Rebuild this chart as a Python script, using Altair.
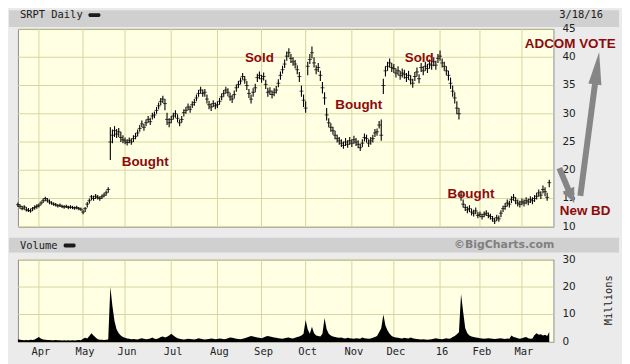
import altair as alt
import pandas as pd

# ---------------- data: one entry per trading session, 18 Mar 2015 .. 18 Mar 2016 ----------------
month_sizes = [10, 21, 20, 22, 22, 21, 21, 22, 20, 22, 19, 20, 14]

close_m = [
    [13.9, 13.6, 13.2, 13.5, 13.0, 12.9, 12.8, 13.2, 13.4, 13.6],
    [13.8, 14.2, 14.6, 15.0, 14.7, 14.4, 14.2, 14.0, 13.9, 13.7, 13.8, 13.6, 13.5, 13.6, 13.4, 13.5, 13.4, 13.3, 13.4, 13.2, 13.1],
    [12.6, 13.2, 14.0, 14.6, 15.3, 15.0, 15.4, 15.2, 15.0, 15.3, 15.6, 16.0, 16.6, 25.0, 26.2, 27.0, 26.4, 26.8, 25.8, 25.4],
    [25.2, 24.9, 25.3, 25.0, 25.6, 26.0, 26.6, 27.4, 28.2, 27.6, 28.4, 29.0, 28.6, 29.6, 29.8, 30.6, 31.4, 32.2, 32.6, 31.8, 29.0, 28.4],
    [29.0, 29.6, 30.0, 29.2, 28.4, 29.0, 30.2, 30.6, 31.2, 30.8, 31.6, 32.0, 32.8, 33.6, 34.2, 33.6, 33.8, 32.6, 31.6, 31.2, 31.8, 31.4],
    [31.6, 32.2, 33.0, 33.6, 34.2, 33.8, 33.0, 32.6, 33.4, 34.6, 35.2, 35.8, 36.6, 36.0, 35.0, 33.6, 32.6, 33.8, 34.6, 36.4, 36.8],
    [36.2, 36.6, 35.2, 33.8, 34.0, 33.4, 33.8, 34.2, 35.4, 36.8, 37.8, 38.8, 40.2, 40.8, 39.8, 39.2, 38.8, 37.8, 36.6, 34.0, 32.4],
    [31.0, 38.4, 39.6, 40.8, 39.0, 37.8, 38.2, 36.8, 34.6, 32.8, 29.8, 28.4, 27.6, 27.0, 26.2, 25.6, 25.2, 24.8, 24.4, 25.0, 24.6, 25.2],
    [24.8, 25.4, 25.0, 24.6, 24.0, 24.8, 25.8, 25.6, 24.8, 25.2, 25.6, 26.6, 26.8, 28.0, 26.2, 35.0, 37.6, 38.4, 39.0, 38.2],
    [38.0, 37.2, 37.6, 36.8, 37.2, 37.0, 36.4, 36.8, 36.0, 35.4, 36.6, 37.4, 36.2, 38.2, 37.6, 38.4, 38.0, 38.8, 38.6, 39.2, 38.6, 39.8],
    [40.2, 39.0, 38.4, 37.6, 36.8, 35.4, 34.0, 32.8, 31.0, 30.0, 15.6, 14.0, 13.4, 13.0, 13.2, 12.6, 12.4, 12.8, 12.0],
    [12.2, 11.8, 12.2, 12.4, 12.0, 11.8, 11.4, 11.0, 11.6, 11.4, 12.4, 13.2, 13.6, 14.2, 14.0, 14.8, 15.2, 14.6, 14.2, 14.0],
    [14.4, 14.2, 14.6, 14.4, 14.8, 14.6, 15.0, 15.4, 16.0, 15.6, 16.6, 16.2, 15.2, 17.8],
]

low_m = [
    [13.5, 13.2, 12.9, 13.0, 12.7, 12.6, 12.5, 12.8, 13.0, 13.2],
    [13.4, 13.8, 14.2, 14.5, 14.3, 14.0, 13.9, 13.7, 13.6, 13.4, 13.5, 13.3, 13.2, 13.3, 13.1, 13.2, 13.1, 13.0, 13.1, 12.9, 12.8],
    [12.2, 12.6, 13.4, 14.1, 14.7, 14.6, 14.9, 14.8, 14.6, 14.9, 15.2, 15.5, 16.0, 21.8, 24.8, 25.9, 25.7, 25.9, 25.0, 24.8],
    [24.6, 24.4, 24.8, 24.5, 25.0, 25.5, 26.0, 26.8, 27.6, 27.0, 27.8, 28.4, 28.0, 29.0, 29.2, 30.0, 30.8, 31.5, 31.9, 30.6, 28.0, 27.6],
    [28.3, 29.0, 29.3, 28.5, 27.8, 28.4, 29.5, 30.0, 30.6, 30.2, 31.0, 31.4, 32.2, 33.0, 33.6, 33.0, 33.0, 31.8, 30.8, 30.5, 31.2, 30.8],
    [31.0, 31.6, 32.4, 33.0, 33.6, 33.1, 32.3, 31.9, 32.7, 33.9, 34.6, 35.2, 36.0, 35.3, 34.2, 32.8, 31.8, 33.0, 33.8, 35.6, 36.1],
    [35.5, 35.9, 34.4, 33.0, 33.3, 32.7, 33.1, 33.6, 34.7, 36.0, 37.1, 38.1, 39.4, 40.0, 39.0, 38.5, 38.0, 37.0, 35.6, 33.0, 31.2],
    [30.2, 36.8, 38.8, 39.8, 38.2, 37.0, 37.4, 35.8, 33.6, 31.6, 28.8, 27.6, 26.8, 26.3, 25.5, 24.9, 24.5, 24.1, 23.8, 24.3, 24.0, 24.5],
    [24.1, 24.7, 24.3, 23.9, 23.4, 24.1, 25.1, 24.9, 24.1, 24.5, 24.9, 25.9, 26.1, 27.4, 25.2, 33.5, 36.6, 37.6, 38.2, 37.4],
    [37.2, 36.4, 36.8, 36.0, 36.4, 36.2, 35.6, 36.0, 35.2, 34.6, 35.8, 36.6, 35.4, 37.4, 36.8, 37.6, 37.2, 38.0, 37.8, 38.4, 37.8, 39.0],
    [39.4, 38.2, 37.6, 36.8, 35.9, 34.4, 33.0, 31.8, 29.9, 29.0, 14.6, 13.4, 12.8, 12.4, 12.6, 12.0, 11.8, 12.2, 11.5],
    [11.7, 11.3, 11.7, 11.9, 11.5, 11.3, 10.9, 10.5, 11.0, 10.9, 11.7, 12.6, 13.0, 13.6, 13.4, 14.2, 14.6, 14.0, 13.6, 13.4],
    [13.8, 13.6, 14.0, 13.8, 14.2, 14.0, 14.4, 14.8, 15.3, 14.9, 15.9, 15.4, 14.6, 17.0],
]

high_m = [
    [14.3, 14.0, 13.7, 13.8, 13.5, 13.3, 13.2, 13.5, 13.8, 14.0],
    [14.1, 14.5, 15.0, 15.3, 15.1, 14.8, 14.5, 14.3, 14.2, 14.0, 14.1, 13.9, 13.8, 13.9, 13.7, 13.8, 13.7, 13.6, 13.7, 13.5, 13.4],
    [13.0, 13.5, 14.4, 15.0, 15.6, 15.5, 15.8, 15.6, 15.4, 15.7, 16.0, 16.4, 17.0, 27.6, 27.2, 27.8, 27.3, 27.5, 26.8, 26.2],
    [25.8, 25.5, 25.8, 25.6, 26.2, 26.6, 27.2, 28.0, 28.8, 28.2, 29.0, 29.6, 29.3, 30.2, 30.4, 31.2, 32.0, 32.8, 33.2, 32.6, 30.2, 29.2],
    [29.6, 30.2, 30.6, 29.9, 29.0, 29.6, 30.8, 31.2, 31.8, 31.4, 32.2, 32.6, 33.4, 34.2, 34.8, 34.3, 34.4, 33.4, 32.3, 31.8, 32.4, 32.0],
    [32.2, 32.8, 33.6, 34.2, 34.8, 34.5, 33.7, 33.3, 34.1, 35.2, 35.8, 36.4, 37.2, 36.7, 35.8, 34.4, 33.4, 34.5, 35.3, 37.1, 37.5],
    [36.9, 37.3, 36.0, 34.6, 34.7, 34.1, 34.5, 34.9, 36.1, 37.5, 38.5, 39.6, 41.0, 41.6, 40.6, 40.0, 39.5, 38.6, 37.4, 35.0, 33.4],
    [32.2, 39.2, 40.6, 41.9, 40.0, 38.6, 39.0, 37.6, 35.6, 33.8, 31.0, 29.2, 28.3, 27.7, 27.0, 26.3, 25.9, 25.5, 25.1, 25.7, 25.3, 25.9],
    [25.5, 26.1, 25.7, 25.3, 24.7, 25.5, 26.5, 26.3, 25.5, 25.9, 26.3, 27.3, 27.4, 28.7, 29.0, 36.2, 38.4, 39.2, 39.8, 39.0],
    [38.8, 38.0, 38.4, 37.6, 38.0, 37.8, 37.2, 37.6, 36.8, 36.2, 37.4, 38.2, 37.0, 39.0, 38.4, 39.2, 38.8, 39.6, 39.4, 40.0, 39.4, 40.6],
    [41.2, 39.8, 39.2, 38.4, 37.6, 36.4, 35.0, 33.8, 32.2, 31.0, 16.4, 14.8, 14.0, 13.6, 13.8, 13.2, 13.0, 13.4, 12.6],
    [12.7, 12.3, 12.7, 12.9, 12.5, 12.3, 11.9, 11.6, 12.1, 12.0, 12.9, 13.7, 14.2, 14.8, 14.6, 15.4, 15.8, 15.2, 14.8, 14.6],
    [15.0, 14.8, 15.2, 15.0, 15.4, 15.2, 15.6, 16.0, 16.6, 16.3, 17.3, 17.0, 16.0, 18.3],
]

volume_m = [
    [1.0, 0.8, 0.7, 0.6, 0.7, 0.6, 0.8, 0.7, 0.9, 1.4],
    [1.8, 1.2, 0.9, 0.8, 0.7, 0.7, 0.6, 0.6, 0.7, 0.6, 0.6, 0.5, 0.6, 0.5, 0.6, 0.5, 0.6, 0.5, 0.6, 0.7, 0.6],
    [1.2, 1.5, 1.3, 2.2, 3.2, 2.4, 1.6, 1.0, 0.8, 0.8, 0.7, 0.8, 0.9, 20.0, 13.0, 7.5, 4.5, 3.2, 2.4, 1.8],
    [1.5, 1.3, 1.2, 1.0, 1.1, 1.0, 0.9, 1.2, 1.4, 1.2, 1.0, 1.1, 1.3, 1.6, 1.2, 1.1, 1.4, 1.8, 2.0, 1.6, 1.9, 2.4],
    [3.0, 2.4, 1.8, 1.4, 1.2, 1.0, 0.9, 1.0, 1.2, 1.1, 1.0, 0.9, 1.1, 1.4, 1.2, 1.0, 0.9, 1.0, 1.1, 1.3, 1.2, 1.0],
    [1.1, 1.3, 1.2, 1.0, 1.1, 1.4, 1.6, 1.5, 1.4, 1.2, 1.1, 1.0, 1.2, 1.4, 1.6, 1.9, 2.2, 2.0, 1.8, 1.6, 1.5],
    [1.4, 1.6, 2.0, 2.2, 2.0, 1.8, 1.6, 1.5, 1.4, 1.3, 1.2, 1.4, 1.5, 1.6, 1.4, 1.3, 1.5, 1.8, 2.0, 2.4, 3.0],
    [8.0, 4.5, 3.0, 5.5, 3.2, 2.4, 2.2, 2.0, 3.0, 8.7, 4.6, 3.0, 2.4, 2.0, 1.8, 1.6, 1.5, 1.6, 1.4, 1.3, 1.5, 1.4],
    [1.3, 1.2, 1.4, 1.3, 1.2, 1.6, 1.4, 1.3, 1.2, 1.3, 1.5, 1.8, 2.2, 3.5, 5.0, 10.0, 6.0, 4.2, 3.0, 2.2],
    [1.8, 1.6, 1.5, 1.4, 1.3, 1.5, 1.4, 1.3, 1.6, 1.4, 1.2, 1.1, 1.0, 0.9, 1.0, 0.9, 0.8, 0.9, 1.0, 1.2, 1.4, 1.2],
    [1.1, 1.0, 1.2, 1.4, 1.2, 1.3, 1.8, 2.2, 2.8, 3.5, 17.5, 11.0, 5.0, 3.2, 2.4, 2.0, 1.8, 1.6, 1.5],
    [1.4, 1.3, 1.2, 1.3, 1.4, 1.3, 1.2, 1.1, 1.2, 1.3, 1.4, 1.2, 1.1, 1.3, 1.2, 2.4, 1.8, 1.6, 1.4, 1.2],
    [1.4, 1.6, 1.8, 1.4, 1.2, 1.3, 2.5, 3.2, 2.6, 2.8, 2.4, 2.6, 2.2, 3.6],
]

for name, arr in [("close", close_m), ("low", low_m), ("high", high_m), ("volume", volume_m)]:
    for k, (m, n) in enumerate(zip(arr, month_sizes)):
        assert len(m) == n, (name, k, len(m), n)

closes = [v for m in close_m for v in m]
lows = [v for m in low_m for v in m]
highs = [v for m in high_m for v in m]
volumes = [v for m in volume_m for v in m]
days = list(range(len(closes)))

# axis ticks / labels (trading-day index of each month start)
month_ticks = [10, 31, 51, 73, 95, 116, 137, 159, 179, 201, 220, 240]
month_labels = ["Apr", "May", "Jun", "Jul", "Aug", "Sep", "Oct", "Nov", "Dec", "16", "Feb", "Mar"]
price_ticks = [10, 15, 20, 25, 30, 35, 40, 45]
vol_ticks = [0, 10, 20, 30]

# annotations (in trading-day / price units)
note_text = ["Bought", "Sold", "Bought", "Sold", "ADCOM VOTE", "Bought", "New BD"]
note_day = [60.6, 115.0, 162.3, 191.1, 263.0, 215.7, 270.1]
note_price = [21.4, 39.9, 31.5, 39.9, 42.3, 15.8, 12.8]

shaft_id = ["a1", "a1", "a2", "a2"]
shaft_day = [257.8, 262.4, 267.8, 274.9]
shaft_price = [20.38, 16.3, 15.45, 35.6]

head_id = ["a1", "a2"]
head_day = [263.5, 275.75]
head_price = [15.43, 38.07]
head_angle = [157, 7.5]
head_size = [225, 1089]

# ---------------- chart ----------------
df = pd.DataFrame({"day": days, "close": closes, "low": lows, "high": highs, "vol": volumes})
notes = pd.DataFrame({"t": note_text, "d": note_day, "p": note_price})
shafts = pd.DataFrame({"id": shaft_id, "d": shaft_day, "p": shaft_price})
heads = pd.DataFrame({"id": head_id, "d": head_day, "p": head_price, "a": head_angle, "s": head_size})
months = pd.DataFrame({"d": month_ticks, "m": month_labels})
pticks = pd.DataFrame({"v": price_ticks})
vticks = pd.DataFrame({"v": vol_ticks})
one = pd.DataFrame({"k": [0]})

MONO = "DejaVu Sans Mono"
SANS = "DejaVu Sans"
W, HP, HV = 539, 199, 83
BAND = "#D0D0D0"
GRID = "#D6D6A0"
ARROW = "#868686"
RED = "#8E0A0A"
INK = "#1A1A1A"

xs = alt.Scale(domain=[0, 255], nice=False, zero=False)
ys_p = alt.Scale(domain=[10, 45], nice=False, zero=False)
ys_v = alt.Scale(domain=[0, 30], nice=False, zero=False)


def X(field):
    return alt.X(field, type="quantitative", scale=xs, axis=None)


def YP(field):
    return alt.Y(field, type="quantitative", scale=ys_p, axis=None)


def YV(field):
    return alt.Y(field, type="quantitative", scale=ys_v, axis=None)


def header(text, x, y, align="left", font=MONO, weight="normal", size=10.5, color=INK):
    return alt.Chart(one).mark_text(align=align, baseline="middle", font=font, fontWeight=weight,
                                    fontSize=size, color=color).encode(
        x=alt.value(x), y=alt.value(y), text=alt.value(text))


# --- price panel ---
p_band = alt.Chart(one).mark_rect(color=BAND).encode(
    x=alt.value(-9), x2=alt.value(605), y=alt.value(-19), y2=alt.value(-2))
p_dash = alt.Chart(one).mark_rect(color=INK, cornerRadius=1.5).encode(
    x=alt.value(71), x2=alt.value(83), y=alt.value(-16), y2=alt.value(-12))
p_grid_v = alt.Chart(months).mark_rule(color=GRID, strokeWidth=1).encode(
    x=X("d"), y=alt.value(0), y2=alt.value(HP))
p_grid_h = alt.Chart(pticks).mark_rule(color=GRID, strokeWidth=1).encode(
    y=YP("v"), x=alt.value(0), x2=alt.value(W))
p_labels = alt.Chart(pticks).mark_text(align="left", baseline="middle", font=SANS, fontSize=10.5,
                                       color="#222").encode(
    y=YP("v"), x=alt.value(W + 9), text="v:Q")

bars = alt.Chart(df).mark_rule(color="black", strokeWidth=1.1).encode(
    x=X("day"), y=YP("low"), y2="high:Q")
cticks = alt.Chart(df).mark_tick(orient="horizontal", size=4, thickness=1, color="black").encode(
    x=X("day"), y=YP("close"))

note_marks = alt.Chart(notes).mark_text(font="Liberation Sans", fontWeight="bold", fontSize=13.5,
                                        color=RED, align="center", baseline="middle").encode(
    x=X("d"), y=YP("p"), text="t:N")
shaft_marks = alt.Chart(shafts).mark_line(color=ARROW, strokeWidth=6, strokeCap="butt").encode(
    x=X("d"), y=YP("p"), detail="id:N")
head_marks = alt.Chart(heads).mark_point(filled=True, color=ARROW, opacity=1, strokeWidth=0).encode(
    x=X("d"), y=YP("p"),
    shape=alt.Shape("id:N", scale=alt.Scale(domain=["a1", "a2"],
                                            range=["M0,-1L0.85,1L-0.85,1Z", "M0,-1L0.4,1L-0.4,1Z"]),
                    legend=None),
    size=alt.Size("s:Q", scale=None), angle=alt.Angle("a:Q", scale=None))

price = alt.layer(
    p_band, header("SRPT Daily", 2, -14), p_dash, header("3/18/16", 589, -14, align="right"),
    p_grid_v, p_grid_h, p_labels, bars, cticks, shaft_marks, head_marks, note_marks,
).properties(width=W, height=HP)

# --- volume panel ---
v_band = alt.Chart(one).mark_rect(color=BAND).encode(
    x=alt.value(-9), x2=alt.value(605), y=alt.value(-22), y2=alt.value(-7))
v_dash = alt.Chart(one).mark_rect(color=INK, cornerRadius=1.5).encode(
    x=alt.value(46), x2=alt.value(58), y=alt.value(-16), y2=alt.value(-12))
v_unit = alt.Chart(one).mark_text(align="center", baseline="middle", font=MONO, fontSize=10.5,
                                  angle=270, color=INK).encode(
    x=alt.value(595), y=alt.value(41), text=alt.value("Millions"))
v_grid_v = alt.Chart(months).mark_rule(color=GRID, strokeWidth=1).encode(
    x=X("d"), y=alt.value(0), y2=alt.value(HV))
v_grid_h = alt.Chart(vticks).mark_rule(color=GRID, strokeWidth=1).encode(
    y=YV("v"), x=alt.value(0), x2=alt.value(W))
v_labels = alt.Chart(vticks).mark_text(align="left", baseline="middle", font=SANS, fontSize=10.5,
                                       color="#222").encode(
    y=YV("v"), x=alt.value(W + 9), text="v:Q")
m_labels = alt.Chart(months).mark_text(align="center", baseline="middle", font=MONO, fontSize=10.5,
                                       color="#222", dx=2).encode(
    x=X("d"), y=alt.value(HV + 10), text="m:N")

vol_area = alt.Chart(df).mark_area(color="black", interpolate="linear", opacity=1).encode(
    x=X("day"), y=YV("vol"))

volume = alt.layer(
    v_band, header("Volume", 2, -14), v_dash,
    header("©BigCharts.com", 540, -15, align="right", font=SANS, weight="bold", size=11, color="#808080"),
    v_unit, v_grid_v, v_grid_h, v_labels, m_labels, vol_area,
).properties(width=W, height=HV)

chart = (
    alt.vconcat(price, volume, spacing=33, bounds="flush")
    .resolve_scale(x="independent", y="independent")
    .properties(background="#EBEBEB", padding={"left": 0, "top": 0, "right": 2, "bottom": 5})
    .configure_view(fill="#FFFFE4", stroke="#8C8C8C", strokeWidth=1)
)

chart.save("out.html", embed_options={"renderer": "svg", "actions": False})
